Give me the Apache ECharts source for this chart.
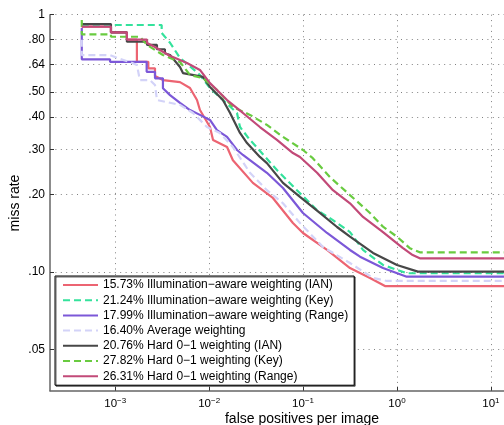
<!DOCTYPE html>
<html>
<head>
<meta charset="utf-8">
<script src="https://cdn.jsdelivr.net/npm/echarts@6/dist/echarts.min.js"></script>
<style>
html,body{margin:0;padding:0;background:#fff;}
#chart{width:504px;height:425px;}
</style>
</head>
<body>
<div id="chart"></div>
<script>
// legend labels (log-average miss rate + method)
var seriesNames = [
	'15.73% Illumination\u2212aware weighting (IAN)',
	'21.24% Illumination\u2212aware weighting (Key)',
	'17.99% Illumination\u2212aware weighting (Range)',
	'16.40% Average weighting',
	'20.76% Hard 0\u22121 weighting (IAN)',
	'27.82% Hard 0\u22121 weighting (Key)',
	'26.31% Hard 0\u22121 weighting (Range)'
];

// curves: [false positives per image, miss rate]
var curveIan = [[0.00044,0.898],[0.0009,0.898],[0.0009,0.854],[0.00133,0.854],[0.00133,0.800],[0.0017,0.800],[0.0017,0.656],[0.00225,0.656],[0.00225,0.619],[0.00265,0.619],[0.00265,0.578],[0.00322,0.557],[0.00489,0.547],[0.00625,0.519],[0.00742,0.466],[0.00798,0.426],[0.0102,0.366],[0.0110,0.326],[0.0155,0.306],[0.0179,0.272],[0.0292,0.222],[0.0477,0.194],[0.0780,0.155],[0.0998,0.1418],[0.180,0.1218],[0.316,0.1036],[0.516,0.0948],[0.745,0.0882],[15,0.0882]];
var curveKey = [[0.00044,0.912],[0.00312,0.912],[0.00312,0.849],[0.00383,0.778],[0.00489,0.679],[0.00576,0.647],[0.00798,0.583],[0.0102,0.519],[0.0140,0.466],[0.0198,0.415],[0.0213,0.366],[0.0272,0.326],[0.0307,0.311],[0.0527,0.249],[0.0861,0.208],[0.141,0.174],[0.208,0.159],[0.316,0.143],[0.435,0.1218],[0.710,0.1065],[1.27,0.0989],[15,0.0989]];
var curveRange = [[0.00044,0.888],[0.00044,0.671],[0.00088,0.671],[0.00088,0.656],[0.00216,0.656],[0.00216,0.600],[0.00265,0.600],[0.00265,0.566],[0.00322,0.566],[0.00322,0.518],[0.00383,0.487],[0.00489,0.454],[0.00625,0.426],[0.00798,0.408],[0.0102,0.390],[0.0121,0.356],[0.0155,0.335],[0.0198,0.298],[0.0229,0.285],[0.0412,0.243],[0.0611,0.212],[0.0998,0.1696],[0.180,0.1418],[0.316,0.1218],[0.404,0.1147],[0.710,0.1036],[1.27,0.0959],[15,0.0959]];
var curveAverage = [[0.00044,0.80],[0.00044,0.697],[0.00088,0.697],[0.00112,0.673],[0.00143,0.655],[0.0017,0.637],[0.00183,0.557],[0.00234,0.557],[0.00265,0.533],[0.00278,0.466],[0.00489,0.446],[0.00673,0.415],[0.00948,0.366],[0.0130,0.347],[0.0179,0.306],[0.0272,0.243],[0.0412,0.208],[0.0611,0.185],[0.0927,0.155],[0.163,0.1251],[0.316,0.1084],[0.556,0.0948],[0.782,0.0923],[15,0.0923]];
var curveHardIan = [[0.00044,0.920],[0.0009,0.920],[0.0009,0.854],[0.00133,0.854],[0.00133,0.785],[0.00218,0.785],[0.00218,0.763],[0.00278,0.763],[0.00278,0.734],[0.00338,0.734],[0.00338,0.708],[0.00383,0.697],[0.00489,0.626],[0.00526,0.593],[0.00859,0.573],[0.0102,0.524],[0.0140,0.466],[0.0167,0.415],[0.0213,0.347],[0.0253,0.317],[0.0347,0.280],[0.0412,0.265],[0.0611,0.222],[0.0927,0.196],[0.151,0.1696],[0.230,0.1496],[0.316,0.1372],[0.556,0.1186],[1.0,0.1065],[1.67,0.1003],[15,0.1003]];
var curveHardKey = [[0.00044,0.954],[0.00044,0.839],[0.0009,0.839],[0.0009,0.821],[0.00183,0.821],[0.00218,0.763],[0.00265,0.729],[0.00322,0.697],[0.00383,0.679],[0.00489,0.655],[0.00625,0.583],[0.00859,0.567],[0.0121,0.510],[0.0179,0.438],[0.0272,0.408],[0.0412,0.373],[0.0611,0.335],[0.0998,0.298],[0.127,0.277],[0.193,0.234],[0.316,0.199],[0.516,0.1696],[0.710,0.150],[1.0,0.1372],[1.37,0.1238],[1.75,0.1193],[15,0.1193]];
var curveHardRange = [[0.00044,0.898],[0.0009,0.898],[0.0009,0.854],[0.00133,0.854],[0.00133,0.800],[0.00218,0.800],[0.00218,0.776],[0.00265,0.749],[0.00299,0.729],[0.00383,0.691],[0.00411,0.685],[0.0058,0.649],[0.00798,0.610],[0.0102,0.542],[0.0155,0.466],[0.0229,0.415],[0.0347,0.366],[0.0527,0.326],[0.0780,0.290],[0.0927,0.280],[0.141,0.243],[0.208,0.208],[0.316,0.185],[0.435,0.1637],[0.710,0.143],[1.15,0.124],[1.47,0.1164],[1.75,0.1130],[15,0.1130]];

// axis ticks
var yTickValues = [0.05, 0.1, 0.2, 0.3, 0.4, 0.5, 0.64, 0.8, 1];
var yTickLabels = ['.05', '.10', '.20', '.30', '.40', '.50', '.64', '.80', '1'];
var xTickExponents = [-3, -2, -1, 0, 1];

var curves = [curveIan, curveKey, curveRange, curveAverage, curveHardIan, curveHardKey, curveHardRange];
var colors = ['#ec6472', '#34e29c', '#7c58d8', '#d3d3f8', '#474747', '#69cb40', '#c24a78'];
var dashed = [false, true, false, true, false, true, false];

var FONT = '"Liberation Sans", Arial, Helvetica, sans-serif';

var series = [];
for(var i = 0; i < curves.length; i++){
	series.push({
		name: seriesNames[i],
		type: 'line',
		symbol: 'none',
		showSymbol: false,
		animation: false,
		clip: true,
		lineStyle: {
			color: colors[i],
			width: 2.2,
			type: dashed[i] ? [7, 4] : 'solid'
		},
		itemStyle: { color: colors[i] },
		data: curves[i].map(function(p){ return [Math.log10(p[0]), Math.log10(p[1])]; })
	});
}

var gridLine = { show: true, lineStyle: { color: '#808080', width: 1, type: [1, 4.4] } };
var yTicksLog = yTickValues.map(function(v){ return Math.log10(v); });

var option = {
	animation: false,
	backgroundColor: '#fff',
	grid: { left: 50, right: 0, top: 14.7, bottom: 34.3 },
	xAxis: {
		type: 'value',
		min: -3.695,
		max: 1.14,
		axisLine: { onZero: false, lineStyle: { color: '#666', width: 1.5 } },
		axisTick: { inside: true, length: 4, customValues: xTickExponents, lineStyle: { color: '#333' } },
		splitLine: gridLine,
		axisLabel: {
			customValues: xTickExponents,
			margin: 6,
			color: '#000',
			fontFamily: FONT,
			formatter: function(v){
				var e = Math.round(v);
				return '{b|10}{s|' + (e < 0 ? '\u2212' + (-e) : e) + '}';
			},
			rich: {
				b: { fontSize: 11.5, fontFamily: FONT, color: '#000' },
				s: { fontSize: 8, fontFamily: FONT, color: '#000', padding: [0, 0, 7, 0] }
			}
		}
	},
	yAxis: {
		type: 'value',
		min: -1.4613,
		max: 0,
		axisLine: { show: true, onZero: false, lineStyle: { color: '#666', width: 1.5 } },
		axisTick: { show: true, inside: true, length: 4, customValues: yTicksLog, lineStyle: { color: '#333' } },
		splitLine: gridLine,
		axisLabel: {
			customValues: yTicksLog,
			margin: 5,
			color: '#000',
			fontSize: 12,
			fontFamily: FONT,
			formatter: function(v){
				for(var k = 0; k < yTickValues.length; k++){
					if(Math.abs(yTicksLog[k] - v) < 1e-6) return yTickLabels[k];
				}
				return '';
			}
		}
	},
	legend: {
		data: seriesNames,
		orient: 'vertical',
		left: 55,
		top: 276,
		padding: [2, 6, 2, 7],
		itemWidth: 35,
		itemHeight: 14,
		itemGap: 1.2,
		selectedMode: false,
		backgroundColor: '#fff',
		borderColor: '#000',
		borderWidth: 1,
		shadowColor: 'rgba(0,0,0,0.6)',
		shadowOffsetX: 1,
		shadowOffsetY: 1,
		itemStyle: { opacity: 0 },
		textStyle: { fontSize: 12, lineHeight: 14, fontFamily: FONT, color: '#000' }
	},
	graphic: [
		{
			type: 'text',
			x: 15, y: 203,
			rotation: Math.PI / 2,
			style: { text: 'miss rate', font: '14px ' + FONT, fill: '#000', align: 'center', verticalAlign: 'middle' }
		},
		{
			type: 'text',
			x: 302, y: 419,
			style: { text: 'false positives per image', font: '14px ' + FONT, fill: '#000', align: 'center', verticalAlign: 'middle' }
		}
	],
	series: series
};

var chart = echarts.init(document.getElementById('chart'), null, { renderer: 'canvas' });
chart.setOption(option);
</script>
</body>
</html>
